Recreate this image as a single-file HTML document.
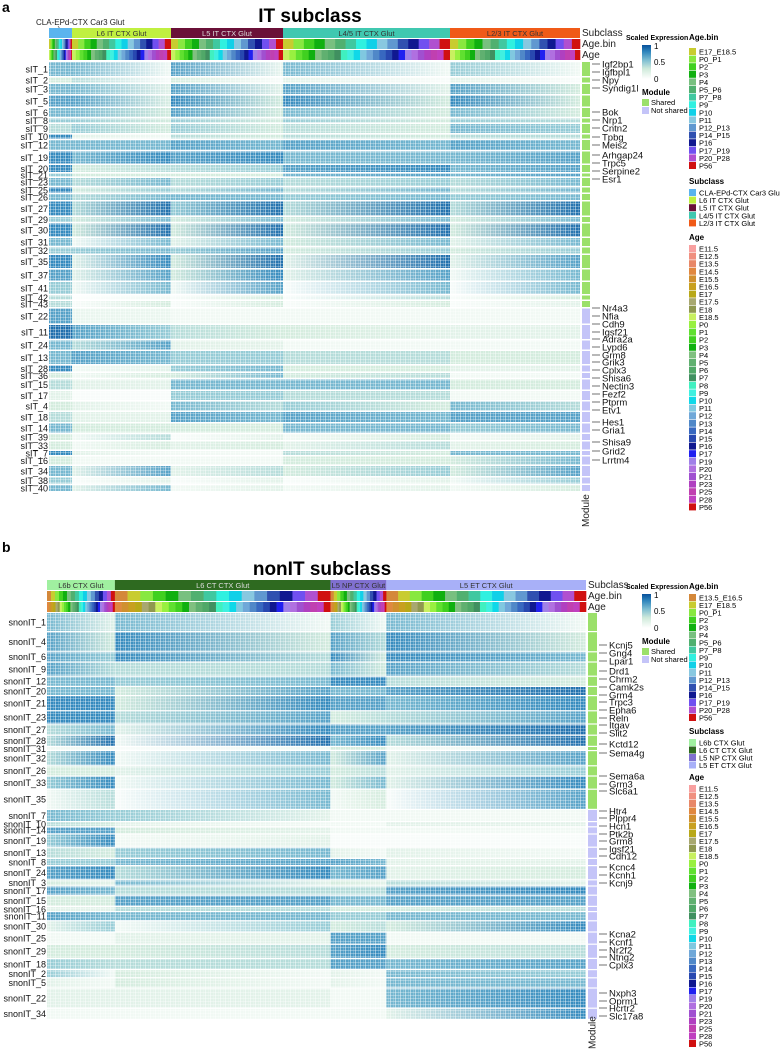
<!DOCTYPE html>
<html><head><meta charset="utf-8"><style>
html,body{margin:0;padding:0;background:#fff;}
svg{display:block;font-family:"Liberation Sans",Arial,sans-serif;}
</style></head><body>
<svg id="fig" width="780" height="1050" viewBox="0 0 780 1050" xmlns="http://www.w3.org/2000/svg">
<defs>
<pattern id="tex" width="5" height="3" patternUnits="userSpaceOnUse">
<rect x="0" y="0" width="1" height="3" fill="#fff" opacity="0.45"/>
<rect x="0" y="2" width="5" height="1" fill="#fff" opacity="0.3"/>
<rect x="3" y="0" width="0.6" height="3" fill="#fff" opacity="0.3"/>
</pattern>
<linearGradient id="scaleGrad" x1="0" y1="1" x2="0" y2="0">
<stop offset="0" stop-color="#ffffff"/><stop offset="0.3" stop-color="#cfeadb"/><stop offset="0.55" stop-color="#7fbfd2"/><stop offset="0.8" stop-color="#2f86bd"/><stop offset="1" stop-color="#08509a"/>
</linearGradient>
</defs>
<g id="root"></g>
</svg>
<script>
// ---------- Panel A data ----------
const aModules = ["sIT_1","sIT_2","sIT_3","sIT_5","sIT_6","sIT_8","sIT_9","sIT_10","sIT_12","sIT_19","sIT_20","sIT_21","sIT_23","sIT_25","sIT_26","sIT_27","sIT_29","sIT_30","sIT_31","sIT_32","sIT_35","sIT_37","sIT_41","sIT_42","sIT_43","sIT_22","sIT_11","sIT_24","sIT_13","sIT_28","sIT_36","sIT_15","sIT_17","sIT_4","sIT_18","sIT_14","sIT_39","sIT_33","sIT_7","sIT_16","sIT_34","sIT_38","sIT_40"];
const aSizes = [14,5,10,11,9,4,9,4,10,12,7,3,8,5,6,14,5,13,8,6,13,11,12,4,6,15,14,9,13,6,5,10,9,9,10,9,6,8,4,8,10,6,6];
const aShared = [1,1,1,1,1,1,1,1,1,1,1,1,1,1,1,1,1,1,1,1,1,1,1,1,1,0,0,0,0,0,0,0,0,0,0,0,0,0,0,0,0,0,0];
const aSubclasses = ["CLA-EPd-CTX Car3 Glut","L6 IT CTX Glut","L5 IT CTX Glut","L4/5 IT CTX Glut","L2/3 IT CTX Glut"];
const aSubclassCells = [23,99,112,167,130];
const aSubclassColors = ["#5ab4ee","#c0f040","#6a1038","#40c8b0","#f05a18"];
// expression per module: [early,late] for each subclass
const aExpr = [
[.6,.6,.6,.1,.7,.15,.6,.1,.5,.1],[.3,.3,.4,.05,.3,.05,.2,.05,.2,.05],[.6,.6,.6,.2,.7,.2,.7,.2,.7,.3],[.7,.7,.7,.25,.8,.3,.8,.3,.8,.3],
[.6,.6,.6,.3,.7,.3,.6,.3,.6,.3],[.5,.5,.5,.3,.5,.3,.5,.3,.5,.4],[.4,.4,.5,.3,.5,.3,.4,.3,.6,.5],[.8,.8,.2,.1,.4,.3,.4,.3,.4,.4],
[.6,.6,.6,.6,.7,.6,.7,.6,.7,.6],[.8,.8,.6,.8,.7,.8,.6,.6,.6,.7],[.8,.8,.3,.4,.4,.5,.7,.8,.6,.7],[.5,.5,.3,.3,.3,.3,.6,.7,.6,.7],
[.6,.6,.4,.6,.4,.5,.4,.5,.4,.6],[.8,.8,.3,.5,.4,.6,.4,.6,.4,.6],[.6,.6,.4,.6,.6,.6,.5,.6,.5,.6],[.8,.8,.4,.9,.5,.9,.4,.9,.4,.9],
[.5,.5,.3,.6,.3,.6,.3,.6,.3,.6],[.8,.8,.3,.9,.3,.9,.3,.9,.3,.9],[.6,.6,.1,.6,.2,.6,.3,.6,.2,.6],[.5,.5,.5,.6,.5,.7,.3,.5,.3,.5],
[.8,.8,.2,.8,.3,.9,.2,.9,.2,.7],[.7,.7,.2,.7,.3,.8,.2,.7,.1,.6],[.5,.5,.1,.6,.1,.7,.05,.6,.05,.6],[.4,.4,.02,.1,.05,.3,.05,.4,.05,.3],
[.4,.4,.05,.3,.05,.3,.05,.3,.05,.2],[.7,.7,.15,.15,.1,.1,.1,.1,.1,.1],[.9,.9,.7,.5,.4,.3,.3,.2,.2,.2],[.6,.6,.4,.7,.2,.2,.1,.1,.1,.1],
[.6,.6,.7,.6,.5,.5,.4,.4,.3,.3],[.8,.8,.1,.2,.5,.6,.3,.3,.2,.2],[.3,.3,.1,.3,.3,.6,.3,.4,.1,.1],[.4,.4,.2,.2,.6,.6,.6,.6,.3,.3],
[.2,.2,.05,.05,.5,.5,.4,.4,.1,.1],[.3,.3,.2,.1,.6,.4,.5,.3,.6,.4],[.4,.4,.2,.2,.7,.6,.7,.6,.7,.7],[.6,.6,.3,.3,.3,.3,.6,.6,.5,.6],
[.3,.3,.1,.4,.05,.2,.1,.3,.1,.2],[.3,.3,.1,.3,.2,.3,.2,.4,.2,.3],[.8,.8,.2,.1,.1,.1,.4,.3,.6,.6],[.3,.3,.1,.1,.1,.1,.3,.3,.3,.6],
[.6,.6,.2,.7,.2,.4,.3,.5,.3,.7],[.5,.5,.05,.2,.05,.2,.05,.2,.1,.5],[.6,.6,.2,.6,.1,.2,.1,.2,.1,.3]];
const aGenes = ["Igf2bp1","Igfbpl1","Npy","Syndig1l","Bok","Nrp1","Cntn2","Tpbg","Meis2","Arhgap24","Trpc5","Serpine2","Esr1","Nr4a3","Nfia","Cdh9","Igsf21","Adra2a","Lypd6","Grm8","Grik3","Cplx3","Shisa6","Nectin3","Fezf2","Ptprm","Etv1","Hes1","Gria1","Shisa9","Grid2","Lrrtm4"];
const aGeneY = [64,72,80,88,112,120,128,137,145,155,163,171,179,308,316,324,332,339,347,355,362,370,378,386,394,402,410,422,430,442,451,460];

// ---------- Panel B data ----------
const bModules = ["snonIT_1","snonIT_4","snonIT_6","snonIT_9","snonIT_12","snonIT_20","snonIT_21","snonIT_23","snonIT_27","snonIT_28","snonIT_31","snonIT_32","snonIT_26","snonIT_33","snonIT_35","snonIT_7","snonIT_10","snonIT_14","snonIT_19","snonIT_13","snonIT_8","snonIT_24","snonIT_3","snonIT_17","snonIT_15","snonIT_16","snonIT_11","snonIT_30","snonIT_25","snonIT_29","snonIT_18","snonIT_2","snonIT_5","snonIT_22","snonIT_34"];
const bSizes = [18,19,9,13,9,8,14,12,10,10,3,14,9,12,19,11,4,6,12,10,6,13,5,8,10,4,8,10,11,13,10,7,9,19,10];
const bShared = [1,1,1,1,1,1,1,1,1,1,1,1,1,1,1,0,0,0,0,0,0,0,0,0,0,0,0,0,0,0,0,0,0,0,0];
const bSubclasses = ["L6b CTX Glut","L6 CT CTX Glut","L5 NP CTX Glut","L5 ET CTX Glut"];
const bSubclassCells = [68,216,56,200];
const bSubclassColors = ["#a0f0a0","#2e6a20","#8070d0","#a8b0f8"];
const bExpr = [
[.6,.2,.6,.1,.5,.1,.6,.1],[.7,.3,.8,.3,.7,.4,.8,.3],[.7,.5,.8,.4,.8,.3,.8,.6],[.7,.4,.4,.4,.6,.3,.7,.4],
[.6,.6,.5,.6,.8,.8,.4,.3],[.6,.6,.3,.7,.6,.6,.7,.9],[.8,.8,.3,.8,.7,.7,.6,.8],[.8,.8,.4,.7,.3,.4,.4,.7],
[.4,.6,.2,.8,.7,.7,.7,.9],[.4,.9,.1,.9,.6,.8,.4,.9],[.1,.1,.05,.1,.3,.3,.1,.1],[.4,.8,.1,.6,.3,.7,.2,.7],
[.3,.3,.2,.5,.3,.4,.2,.5],[.5,.8,.1,.6,.3,.6,.2,.8],[.1,.4,.05,.6,.1,.3,.05,.7],[.6,.5,.5,.2,.1,.1,.1,.1],
[.4,.3,.2,.1,.1,.1,.2,.2],[.7,.7,.3,.2,.1,.1,.1,.1],[.5,.8,.1,.2,.05,.05,.05,.05],[.4,.3,.5,.6,.2,.1,.2,.1],
[.5,.5,.6,.7,.7,.6,.2,.2],[.7,.8,.4,.8,.6,.7,.2,.3],[.3,.2,.6,.2,.3,.2,.4,.2],[.7,.6,.4,.4,.4,.4,.7,.8],
[.3,.3,.7,.7,.6,.6,.7,.7],[.2,.2,.4,.4,.3,.3,.3,.4],[.7,.6,.6,.6,.5,.5,.6,.6],[.2,.5,.1,.5,.3,.4,.3,.8],
[.1,.1,.2,.2,.7,.7,.1,.1],[.3,.3,.3,.4,.7,.8,.3,.4],[.5,.4,.4,.4,.7,.7,.6,.7],[.5,.1,.3,.1,.2,.1,.6,.5],
[.2,.1,.3,.1,.2,.1,.6,.6],[.2,.2,.2,.2,.1,.1,.6,.8],[.1,.1,.1,.1,.1,.1,.2,.8]];
const bGenes = ["Kcnj5","Gng4","Lpar1","Drd1","Chrm2","Camk2s","Grm4","Trpc3","Epha6","Reln","Itgav","Slit2","Kctd12","Sema4g","Sema6a","Grm3","Slc6a1","Htr4","Plppr4","Hcn1","Ptk2b","Grm8","Igsf21","Cdh12","Kcnc4","Kcnh1","Kcnj9","Kcna2","Kcnf1","Nr2f2","Ntng2","Cplx3","Nxph3","Oprm1","Hcrtr2","Slc17a8"];
const bGeneY = [645,653,661,671,679,687,695,702,710,718,725,733,744,753,776,784,791,811,818,826,834,841,849,856,867,875,883,934,942,950,957,965,993,1001,1008,1016];

// ---------- Legend data ----------
const aAgeBins = ["E17_E18.5","P0_P1","P2","P3","P4","P5_P6","P7_P8","P9","P10","P11","P12_P13","P14_P15","P16","P17_P19","P20_P28","P56"];
const bAgeBins = ["E13.5_E16.5"].concat(aAgeBins);
const ageBinColors = {"E13.5_E16.5":"#d4883a","E17_E18.5":"#c8cc30","P0_P1":"#88e840","P2":"#40d020","P3":"#10b010","P4":"#78c080","P5_P6":"#50b070","P7_P8":"#40c8a0","P9":"#30f0e0","P10":"#10d0e8","P11":"#88c8e0","P12_P13":"#6098d0","P14_P15":"#3050b0","P16":"#101890","P17_P19":"#7050f0","P20_P28":"#b050d0","P56":"#d01010"};
const ages = ["E11.5","E12.5","E13.5","E14.5","E15.5","E16.5","E17","E17.5","E18","E18.5","P0","P1","P2","P3","P4","P5","P6","P7","P8","P9","P10","P11","P12","P13","P14","P15","P16","P17","P19","P20","P21","P23","P25","P28","P56"];
const ageColors = ["#f8a0a0","#f09080","#e88868","#e08840","#d09030","#c8a020","#b8a818","#a8a870","#909850","#c8f060","#98f040","#60e030","#40d020","#10b010","#80c080","#60b070","#50a868","#409060","#40f0c0","#40f0e0","#10d8e8","#80c8e0","#70a8d8","#5088c8","#3868c0","#2848b0","#101890","#2020f0","#a080e8","#b070e0","#a050d0","#b040c0","#c040b0","#c040c0","#d01010"];

const NS="http://www.w3.org/2000/svg";
const root=document.getElementById('root');
const defs=document.querySelector('defs');
function mk(tag,attrs,parent){const e=document.createElementNS(NS,tag);for(const k in attrs)e.setAttribute(k,attrs[k]);(parent||root).appendChild(e);return e;}
function txt(s,attrs,parent){const e=mk('text',attrs,parent);e.textContent=s;return e;}

const cStops=[[0,[255,255,255]],[0.3,[212,236,222]],[0.55,[135,196,212]],[0.8,[52,138,190]],[1,[10,84,156]]];
function col(v){v=Math.max(0,Math.min(1,v));for(let i=1;i<cStops.length;i++){if(v<=cStops[i][0]){const a=cStops[i-1],b=cStops[i];const t=(v-a[0])/(b[0]-a[0]);const c=a[1].map((x,k)=>Math.round(x+(b[1][k]-x)*t));return `rgb(${c[0]},${c[1]},${c[2]})`;}}return 'rgb(10,84,156)';}

let gid=0;
function panel(cfg){
  const {modules,sizes,shared,subclasses,cells,subColors,expr,genes,geneY,x0,x1,yTop,gap,moduleX,moduleW,labelX,binList,ageStart,tag}=cfg;
  const totalCells=cells.reduce((a,b)=>a+b,0);
  const xs=v=>x0+(x1-x0)*v/totalCells;
  const g=mk('g',{});
  
  
  let acc=0;
  subclasses.forEach((s,j)=>{
    const sx=xs(acc), ex=xs(acc+cells[j]); acc+=cells[j];
    const r=mk('rect',{x:sx,y:cfg.barY,width:ex-sx,height:10,fill:subColors[j]},g);
    
    
    if(ex-sx>40){const t=txt(s,{x:(sx+ex)/2,y:cfg.barY+8,'font-size':7.5,'text-anchor':'middle',fill:(j==1&&tag=='b')||(j==2&&tag=='a')?'#ddd':'#333'},g);
      
      }
    const n=binList.length, w=(ex-sx)/n;
    binList.forEach((b,k)=>{const rr=mk('rect',{x:sx+k*w,y:cfg.barY+11,width:w+0.3,height:10,fill:ageBinColors[b]},g);
      
      });
    const ag=ages.slice(ageStart), m=ag.length, w2=(ex-sx)/m;
    ag.forEach((a,k)=>{const rr=mk('rect',{x:sx+k*w2,y:cfg.barY+22,width:w2+0.3,height:10,fill:ageColors[ageStart+k]},g);
      
      });
  });
  let y=yTop;
  modules.forEach((m,i)=>{
    const h=sizes[i];
    let a2=0;
    subclasses.forEach((s,j)=>{
      const sx=xs(a2), ex=xs(a2+cells[j]); a2+=cells[j];
      const id='gr'+(gid++);
      const lg=mk('linearGradient',{id:id,x1:0,y1:0,x2:1,y2:0},defs);
      mk('stop',{offset:0,'stop-color':col(expr[i][2*j])},lg);
      mk('stop',{offset:1,'stop-color':col(expr[i][2*j+1])},lg);
      const r=mk('rect',{x:sx,y:y,width:ex-sx,height:h,fill:`url(#${id})`},g);
      
      
    });
    const mr=mk('rect',{x:moduleX,y:y,width:moduleW,height:h,fill:shared[i]?'#9be06a':'#c4c4f8'},g);
    
    
    const t=txt(m,{x:labelX,y:y+h/2+3.3,'font-size':9,'text-anchor':'end',fill:'#111'},g);
    
    
    y+=h+gap;
  });
  const tx=mk('rect',{x:x0,y:yTop,width:x1-x0,height:y-yTop,fill:'url(#tex)'},g);
  
  
  genes.forEach((gn,k)=>{
    const gy=geneY[k];
    const l=mk('line',{x1:moduleX+moduleW+2,y1:gy,x2:moduleX+moduleW+10,y2:gy,stroke:'#333','stroke-width':0.7},g);
    
    
    const t=txt(gn,{x:moduleX+moduleW+12,y:gy+3.5,'font-size':9.5,fill:'#111'},g);
    
    
  });
  ['Subclass','Age.bin','Age'].forEach((s,k)=>{const t=txt(s,{x:moduleX,y:cfg.barY+8+11*k,'font-size':10,fill:'#222'},g);
    
    });
  const mt=txt('Module',{x:0,y:0,'font-size':10,'text-anchor':'start',fill:'#222',transform:`translate(${moduleX+moduleW/2+3},${cfg.moduleTitleY}) rotate(-90)`},g);
  
  
}

function legend(cfg){
  const {lx,ty,binList,subclasses,subColors,binY,subY,ageY,step,tag}=cfg;
  const g=mk('g',{});
  
  
  txt('Scaled Expression',{x:626,y:ty,'font-size':7,'font-weight':'bold'},g);
  const gb=mk('rect',{x:642,y:ty+5,width:9,height:34,fill:'url(#scaleGrad)'},g);
  
  
  txt('1',{x:654,y:ty+9,'font-size':8},g);txt('0.5',{x:654,y:ty+25,'font-size':8},g);txt('0',{x:654,y:ty+42,'font-size':8},g);
  txt('Module',{x:642,y:ty+55,'font-size':8,'font-weight':'bold'},g);
  [['Shared','#9be06a'],['Not shared','#c4c4f8']].forEach((p,k)=>{
    const r=mk('rect',{x:642,y:ty+59+k*8,width:7,height:7,fill:p[1]},g);
    
    
    txt(p[0],{x:651,y:ty+65+k*8,'font-size':7.5},g);});
  txt('Age.bin',{x:lx,y:ty,'font-size':8,'font-weight':'bold'},g);
  binList.forEach((b,k)=>{const r=mk('rect',{x:lx,y:binY+k*step,width:7,height:7,fill:ageBinColors[b]},g);
    
    
    txt(b,{x:lx+10,y:binY+k*step+6.5,'font-size':7.5},g);});
  txt('Subclass',{x:lx,y:subY-5,'font-size':8,'font-weight':'bold'},g);
  subclasses.forEach((s,k)=>{const r=mk('rect',{x:lx,y:subY+k*step,width:7,height:7,fill:subColors[k]},g);
    
    
    txt(s,{x:lx+10,y:subY+k*step+6.5,'font-size':7.5},g);});
  txt('Age',{x:lx,y:ageY-5,'font-size':8,'font-weight':'bold'},g);
  ages.forEach((a,k)=>{const r=mk('rect',{x:lx,y:ageY+k*step,width:7,height:7,fill:ageColors[k]},g);
    
    
    txt(a,{x:lx+10,y:ageY+k*step+6.5,'font-size':7.5},g);});
}

let t;
t=txt('a',{x:2,y:12,'font-size':14,'font-weight':'bold'});
t=txt('IT subclass',{x:310,y:22,'font-size':19,'font-weight':'bold','text-anchor':'middle'});


t=txt('CLA-EPd-CTX Car3 Glut',{x:36,y:25,'font-size':8,fill:'#222'});


mk('line',{x1:58,y1:26,x2:60,y2:29,stroke:'#333','stroke-width':0.6});
t=txt('b',{x:2,y:552,'font-size':14,'font-weight':'bold'});
t=txt('nonIT subclass',{x:322,y:575,'font-size':19,'font-weight':'bold','text-anchor':'middle'});



panel({modules:aModules,sizes:aSizes,shared:aShared,subclasses:aSubclasses,cells:aSubclassCells,subColors:aSubclassColors,expr:aExpr,genes:aGenes,geneY:aGeneY,x0:49,x1:580,yTop:62,gap:1.5,moduleX:582,moduleW:8,labelX:48,barY:28,binList:aAgeBins,ageStart:9,tag:'a',moduleTitleY:527});
panel({modules:bModules,sizes:bSizes,shared:bShared,subclasses:bSubclasses,cells:bSubclassCells,subColors:bSubclassColors,expr:bExpr,genes:bGenes,geneY:bGeneY,x0:47,x1:586,yTop:613,gap:1.2,moduleX:588,moduleW:9,labelX:46,barY:580,binList:bAgeBins,ageStart:3,tag:'b',moduleTitleY:1049});
legend({lx:689,ty:40,binList:aAgeBins,subclasses:aSubclasses,subColors:aSubclassColors,binY:48,subY:189,ageY:245,step:7.6,tag:'a'});
legend({lx:689,ty:589,binList:bAgeBins,subclasses:bSubclasses,subColors:bSubclassColors,binY:594,subY:739,ageY:785,step:7.5,tag:'b'});
</script>
</body></html>
